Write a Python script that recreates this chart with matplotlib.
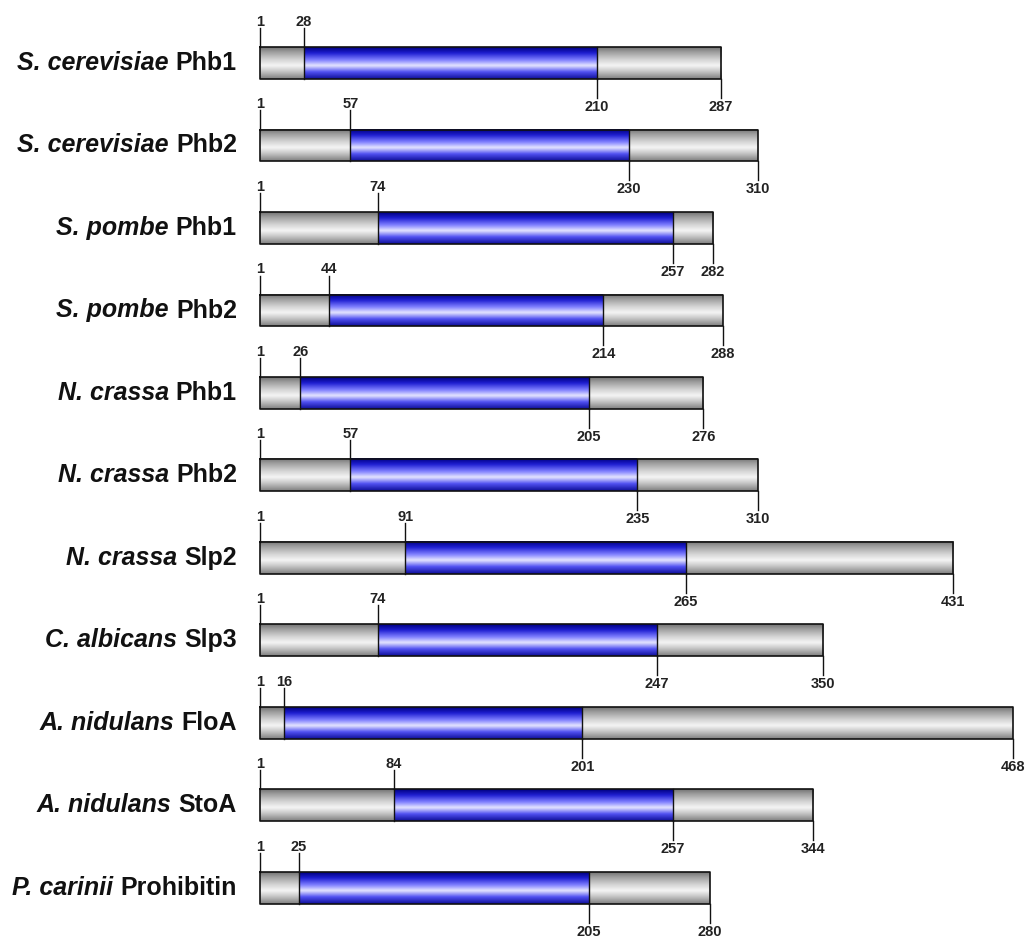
import numpy as np
import matplotlib
matplotlib.use('Agg')
import matplotlib.pyplot as plt
from matplotlib.colors import LinearSegmentedColormap

species = ['S. cerevisiae', 'S. cerevisiae', 'S. pombe', 'S. pombe', 'N. crassa',
           'N. crassa', 'N. crassa', 'C. albicans', 'A. nidulans', 'A. nidulans', 'P. carinii']
proteins = ['Phb1', 'Phb2', 'Phb1', 'Phb2', 'Phb1', 'Phb2', 'Slp2', 'Slp3',
            'FloA', 'StoA', 'Prohibitin']
dom_start = [28, 57, 74, 44, 26, 57, 91, 74, 16, 84, 25]
dom_end = [210, 230, 257, 214, 205, 235, 265, 247, 201, 257, 205]
length = [287, 310, 282, 288, 276, 310, 431, 350, 468, 344, 280]

W, H = 1028, 939
fig = plt.figure(figsize=(W / 100, H / 100), dpi=100)
ax = fig.add_axes([0, 0, 1, 1])
ax.set_axis_off()

# pixel mapping: residue 1 at x=260, 1.612 px per residue; rows 82.5 px apart from y=63
sx = 1.612
ax.set_xlim(1 - 260 / sx, 1 + (W - 260) / sx)
ax.set_ylim((H - 63) / 82.5, -63 / 82.5)
bh = 32 / 82.5
tick = 19 / 82.5

gray = LinearSegmentedColormap.from_list('g', [
    (0.0, (0.45, 0.45, 0.45)), (0.15, (0.62, 0.62, 0.62)), (0.40, (0.84, 0.84, 0.84)),
    (0.58, (0.96, 0.96, 0.96)), (0.78, (0.76, 0.76, 0.76)), (1.0, (0.50, 0.50, 0.50))])
blue = LinearSegmentedColormap.from_list('b', [
    (0.0, (0.0, 0.0, 0.50)), (0.18, (0.12, 0.12, 0.82)), (0.40, (0.50, 0.50, 1.0)),
    (0.58, (0.90, 0.90, 1.0)), (0.78, (0.32, 0.32, 0.95)), (1.0, (0.06, 0.06, 0.60))])
grad = np.linspace(0, 1, 64).reshape(-1, 1)


def segment(x0, x1, y, cmap):
    ax.imshow(grad, cmap=cmap, aspect='auto', origin='upper', interpolation='bicubic',
              extent=[x0, x1, y + bh / 2, y - bh / 2], zorder=1)


numfont = dict(fontsize=10.5, fontweight='bold', family='Liberation Sans', color='#222222')

for i in range(len(species)):
    y = i
    s, e, n = dom_start[i], dom_end[i], length[i]
    segment(1, s, y, gray)
    segment(s, e, y, blue)
    segment(e, n, y, gray)
    top, bot = y - bh / 2, y + bh / 2
    ax.plot([1, n, n, 1, 1], [top, top, bot, bot, top], color='#111111', lw=1.2, zorder=3)
    for xv in (s, e):
        ax.plot([xv, xv], [top, bot], color='#111111', lw=1.0, zorder=3)
    # start ticks up, end ticks down
    for xv in (1, s):
        ax.plot([xv, xv], [top, top - tick], color='#111111', lw=1.0, zorder=3)
        ax.text(xv, top - tick + 0.01, str(xv), ha='center', va='bottom', **numfont)
    for xv in (e, n):
        ax.plot([xv, xv], [bot, bot + tick], color='#111111', lw=1.0, zorder=3)
        ax.text(xv, bot + tick + 0.02, str(xv), ha='center', va='top', **numfont)
    # row label: italic species + bold protein
    xl = 1 - 23 / sx
    pt = ax.text(xl, y, proteins[i], ha='right', va='center', fontsize=18,
                 fontweight='bold', family='Liberation Sans', color='#111111')
    ax.annotate(species[i] + ' ', xy=(0, 0.5), xycoords=pt, ha='right', va='center',
                fontsize=18, fontweight='bold', fontstyle='italic',
                family='Liberation Sans', color='#111111')

fig.savefig('out.png', dpi=100, facecolor='white')
